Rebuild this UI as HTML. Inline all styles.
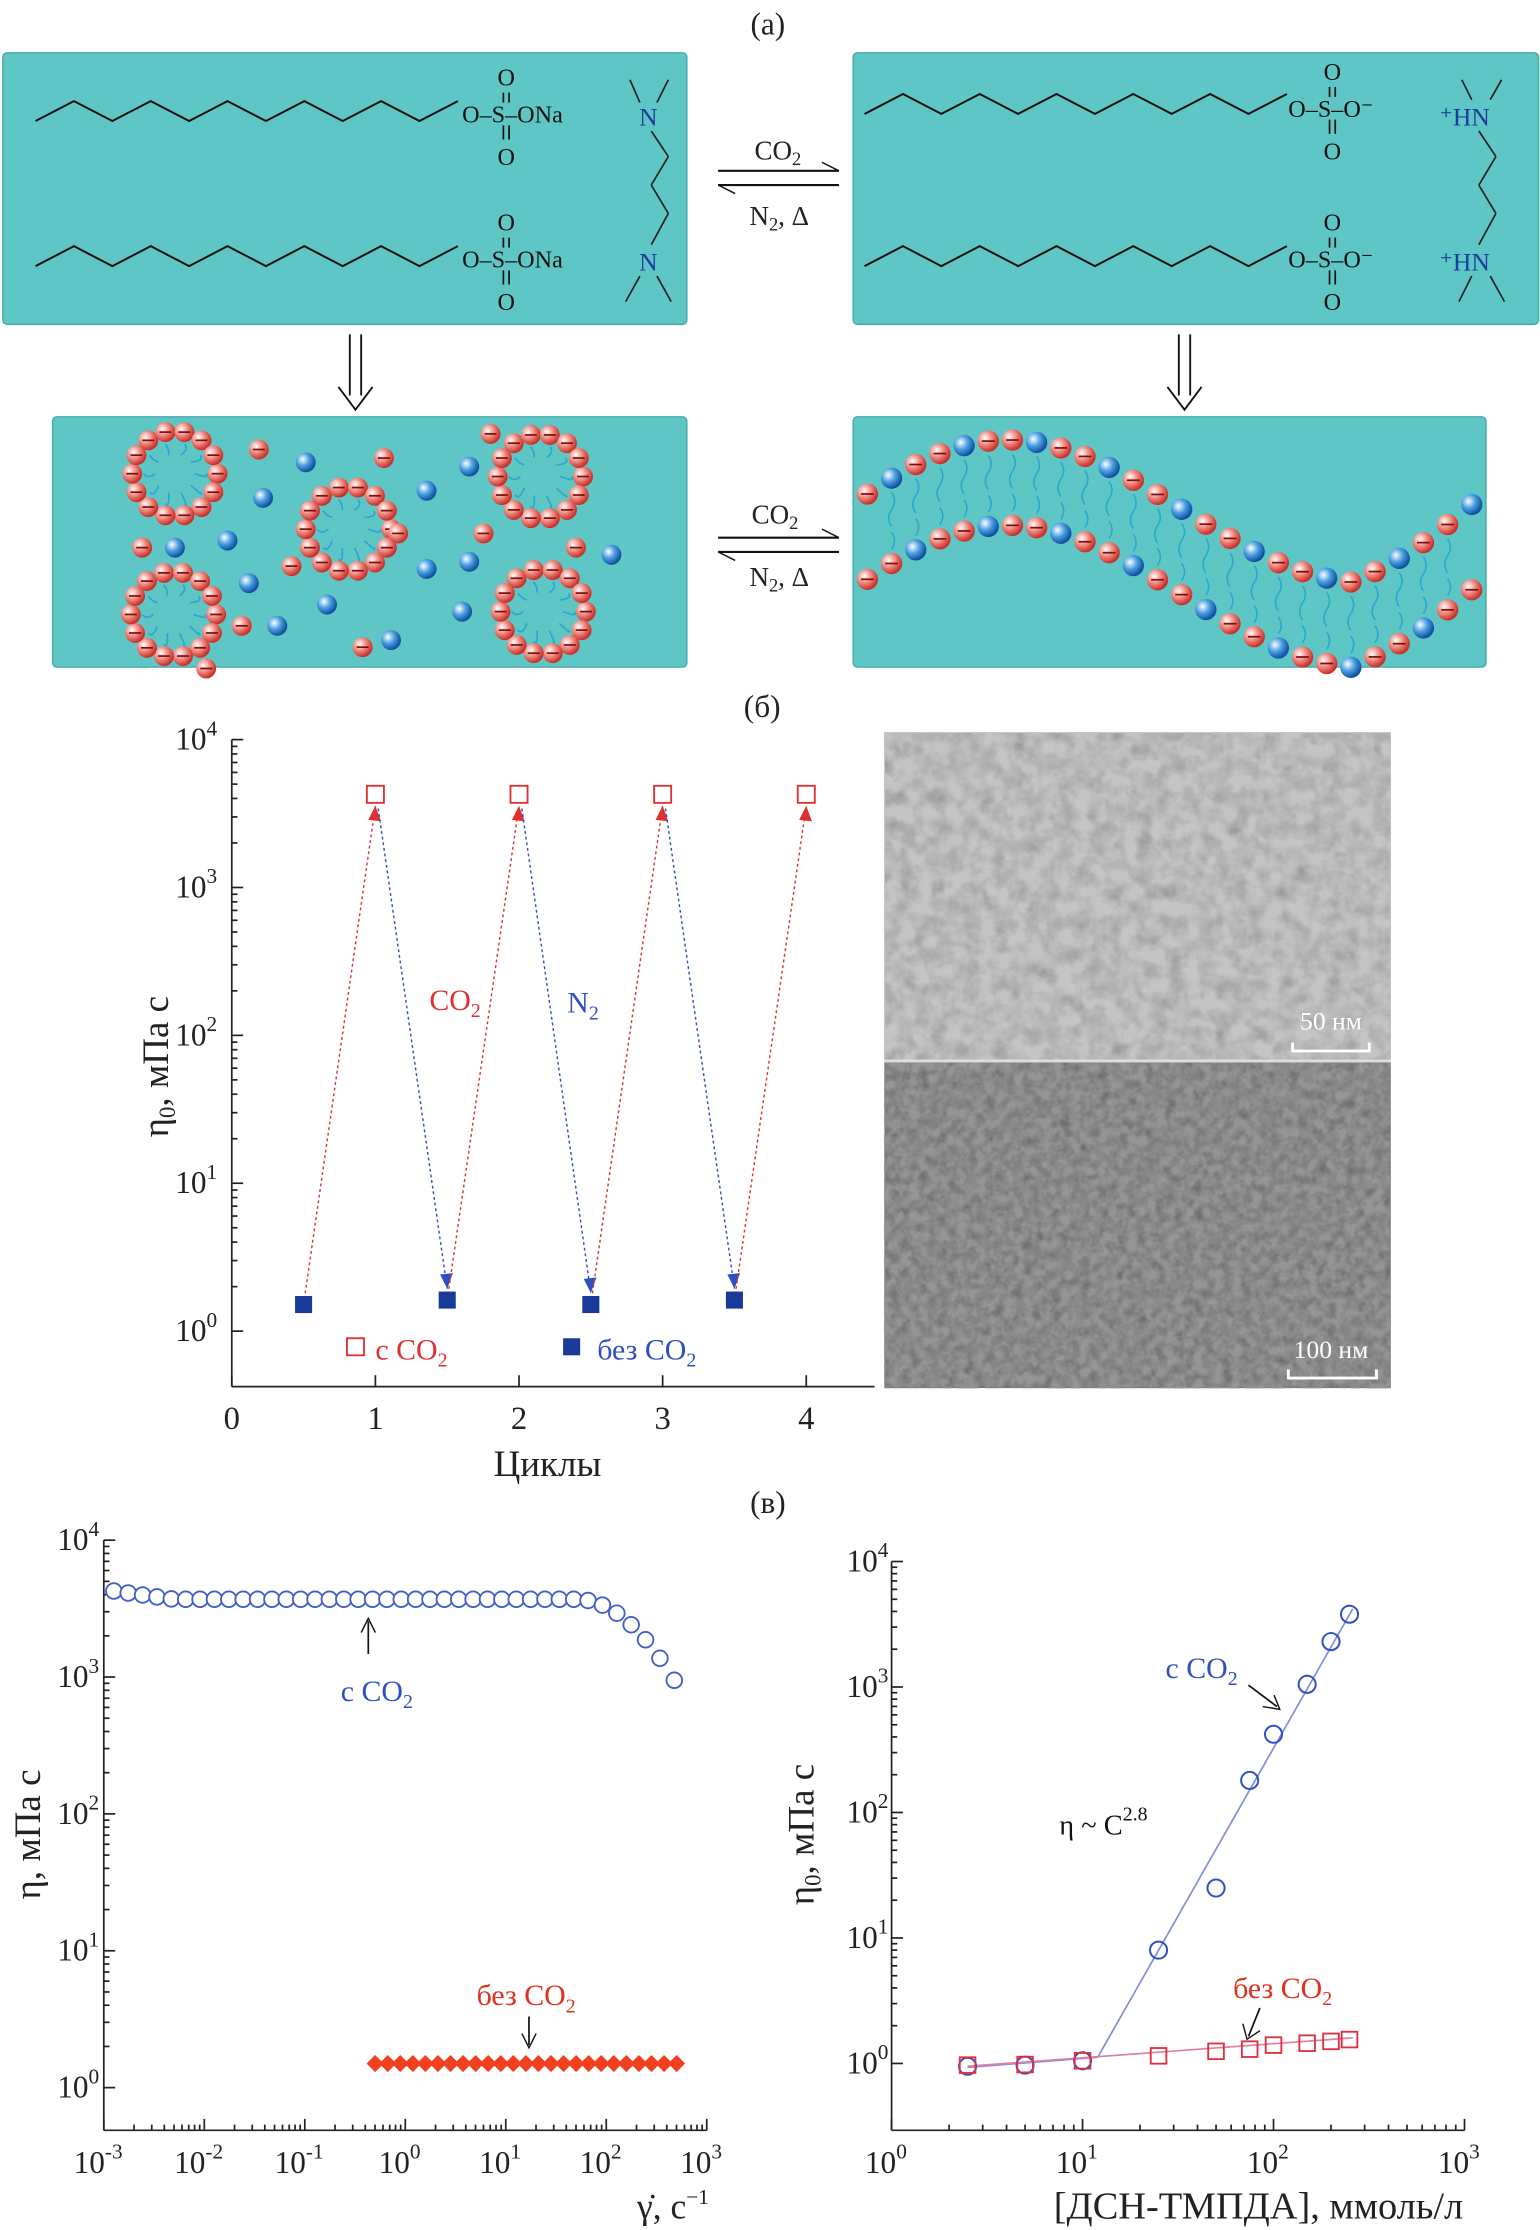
<!DOCTYPE html>
<html><head><meta charset="utf-8"><style>
html,body{margin:0;padding:0;background:#fff}
svg{display:block}
text{font-family:"Liberation Serif",serif}
</style></head><body>
<svg id="s" width="1540" height="2230" viewBox="0 0 1083 1568" xmlns="http://www.w3.org/2000/svg">
<defs>
<filter id="tem1" x="0" y="0" width="100%" height="100%"><feTurbulence type="fractalNoise" baseFrequency="0.09" numOctaves="3" seed="3"/><feColorMatrix type="matrix" values="0 0 0 0 0.55 0 0 0 0 0.55 0 0 0 0 0.55 0.9 0.9 0.9 0 -0.6"/></filter>
<filter id="tem2" x="0" y="0" width="100%" height="100%"><feTurbulence type="fractalNoise" baseFrequency="0.15" numOctaves="3" seed="7"/><feColorMatrix type="matrix" values="0 0 0 0 0.3 0 0 0 0 0.3 0 0 0 0 0.3 1 1 1 0 -0.8"/></filter>
<radialGradient id="rb" cx="35%" cy="35%" r="65%"><stop offset="0" stop-color="#fff"/><stop offset="0.5" stop-color="#f08a80"/><stop offset="1" stop-color="#c8302a"/></radialGradient>
<radialGradient id="bb" cx="35%" cy="35%" r="65%"><stop offset="0" stop-color="#fff"/><stop offset="0.5" stop-color="#4aa0e0"/><stop offset="1" stop-color="#1050a0"/></radialGradient>
</defs>
<g id="g"></g>
</svg>
<script>
const NS="http://www.w3.org/2000/svg",G=document.getElementById('g');
function el(t,a,txt){const e=document.createElementNS(NS,t);for(const k in a)e.setAttribute(k,a[k]);if(txt!==undefined)e.innerHTML=txt;G.appendChild(e);return e;}
function T(x,y,s,size,fill,anchor){return el('text',{x:x,y:y,'font-size':size||20,fill:fill||'#222','text-anchor':anchor||'middle'},s);}
function L(x1,y1,x2,y2,st,w,da){return el('line',{x1,y1,x2,y2,stroke:st||'#222','stroke-width':w||1.2,'stroke-dasharray':da||''});}
const teal='#5fc6c6';
T(540,24,'(а)',22);T(536,504,'(б)',22);T(540,1064,'(в)',22);
[[2,37,481,191],[600,37,482,191],[37,293,446,176],[600,293,445,176]].forEach(b=>el('rect',{x:b[0],y:b[1],width:b[2],height:b[3],fill:teal,stroke:'#4aa',rx:3}));
function chain(x0,y0,n,dx,h){let p=[];for(let i=0;i<=n;i++)p.push((x0+i*dx)+','+(y0+(i%2?-h:0)));el('polyline',{points:p.join(' '),fill:'none',stroke:'#111','stroke-width':1.4});}
function sulf(x,y,right,na){T(x,y+6,'O–S–'+(na?'ONa':'O⁻'),17,'#111','start');T(x+31,y-20,'O',17,'#111');T(x+31,y+36,'O',17,'#111');L(x+29,y-15,x+29,y-8,'#111');L(x+33,y-15,x+33,y-8,'#111');L(x+29,y+8,x+29,y+18,'#111');L(x+33,y+8,x+33,y+18,'#111');}
chain(25,85,11,27,14);sulf(325,80,0,1);chain(25,187,11,27,14);sulf(325,182,0,1);
chain(608,80,11,27,14);sulf(906,76,0,0);chain(608,187,11,27,14);sulf(906,182,0,0);
T(456,88,'N',18,'#1a3d9a');T(456,190,'N',18,'#1a3d9a');L(458,92,470,110);L(470,110,458,130);L(458,130,470,150);L(470,150,458,172);L(450,72,443,56);L(462,72,470,56);L(450,194,440,212);L(462,194,472,212);
T(1030,88,'⁺HN',18,'#1a3d9a');T(1030,190,'⁺HN',18,'#1a3d9a');L(1040,92,1052,110);L(1052,110,1040,130);L(1040,130,1052,150);L(1052,150,1040,172);L(1035,70,1028,56);L(1048,70,1056,56);L(1035,194,1026,212);L(1048,194,1058,212);
function eq(y){L(505,y,590,y,'#111',1.5);el('path',{d:`M578,${y-6} L590,${y}`,stroke:'#111',fill:'none'});L(505,y+10,590,y+10,'#111',1.5);el('path',{d:`M517,${y+16} L505,${y+10}`,stroke:'#111',fill:'none'});}
eq(120);T(547,112,'CO<tspan font-size="13" dy="4">2</tspan>',19);T(548,158,'N<tspan font-size="13" dy="4">2</tspan><tspan dy="-4">, Δ</tspan>',19);
eq(378);T(545,368,'CO<tspan font-size="13" dy="4">2</tspan>',19);T(548,412,'N<tspan font-size="13" dy="4">2</tspan><tspan dy="-4">, Δ</tspan>',19);
function da(x){L(x-4,235,x-4,278,'#111',1.3);L(x+4,235,x+4,278,'#111',1.3);el('path',{d:`M${x-12},272 L${x},288 L${x+12},272`,stroke:'#111',fill:'none','stroke-width':1.3});}
da(250);da(833);
function ball(x,y,r,c){el('circle',{cx:x,cy:y,r:r,fill:c=='r'?'url(#rb)':'url(#bb)'});if(c=='r')L(x-r*0.6,y,x+r*0.6,y,'#7a1010',1.2);}
function mic(cx,cy,R){for(let i=0;i<14;i++){let a=i/14*6.283;ball(cx+R*Math.cos(a),cy+R*Math.sin(a),7,'r');}for(let i=0;i<10;i++){let a=i/10*6.283;el('path',{d:`M${cx+(R-8)*Math.cos(a)},${cy+(R-8)*Math.sin(a)} q3,4 ${-(R-14)*Math.cos(a)/2},${-(R-14)*Math.sin(a)/2}`,stroke:'#2aa8d0',fill:'none','stroke-width':1.2});}}
mic(123,333,30);mic(245,372,30);mic(380,335,30);mic(122,432,30);mic(382,430,30);
[[215,325],[185,350],[123,385],[300,345],[330,328],[300,400],[175,410],[195,440],[275,450],[230,425],[325,430],[330,395],[430,390],[160,380]].forEach(p=>ball(p[0],p[1],7,'b'));
[[182,316],[270,322],[345,305],[100,385],[145,470],[205,398],[280,375],[405,385],[170,440],[255,455],[340,375]].forEach(p=>ball(p[0],p[1],7,'r'));
function worm(off,cnt){let pts=[];for(let i=0;i<cnt;i++){let t=i/(cnt-1);let x=610+t*425;let y=375+off-60*Math.sin(t*5.2+0.3)*(1-0.3*t)+ (t>0.8?(-(t-0.8)*200):0);pts.push([x,y]);}return pts;}
let up=worm(-10,26),lo=worm(50,26);
up.forEach((p,i)=>ball(p[0],p[1],7.5,i%3==1?'b':'r'));lo.forEach((p,i)=>ball(p[0],p[1],7.5,i%3==2?'b':'r'));
for(let i=1;i<25;i+=1){let a=up[i],b=lo[i];el('path',{d:`M${a[0]},${a[1]+10} q4,6 0,12 q-4,6 0,12`,stroke:'#2aa8d0',fill:'none','stroke-width':1.1});el('path',{d:`M${b[0]},${b[1]-10} q4,-6 0,-12`,stroke:'#2aa8d0',fill:'none','stroke-width':1.1});}
const bx=v=>163+v*101,by=e=>936-e*104;
L(163,520,163,975);L(163,975,615,975);
for(let d=0;d<=4;d++){L(163,by(d),171,by(d));T(138,by(d)+7,'10<tspan font-size="15" dy="-10">'+d+'</tspan>',22,'#222');if(d<4)for(let m=2;m<10;m++){let y=by(d+Math.log10(m));L(163,y,167,y);}}
for(let v=0;v<=4;v++){L(bx(v),975,bx(v),967);T(bx(v),1005,v,23);}
T(385,1038,'Циклы',26);
el('text',{x:118,y:750,'font-size':26,fill:'#222',transform:'rotate(-90 118 750)','text-anchor':'middle'},'η<tspan font-size="16" dy="5">0</tspan><tspan dy="-5">, мПа с</tspan>');
const hi=3.63,low=[0.18,0.21,0.18,0.21];
for(let i=0;i<4;i++){
 let x0=bx(i+0.5),y0=by(low[i]),x1=bx(i+1),y1=by(hi)+8;L(x0,y0,x1,y1,'#e03030',1,'2,2');el('path',{d:`M${x1-5},${y1+10} L${x1},${y1} L${x1+4},${y1+11}z`,fill:'#e03030'});
 el('rect',{x:bx(i+1)-6,y:by(hi)-6,width:12,height:12,fill:'#fff',stroke:'#e03030','stroke-width':1.3});
 el('rect',{x:x0-6,y:y0-6,width:12,height:12,fill:'#1a3a9a'});
 if(i<3){let a=bx(i+1)+2,b=by(hi)+10,c=bx(i+1.5),d=by(low[i+1])-8;L(a,b,c,d,'#3050c0',1,'2,2');el('path',{d:`M${c-5},${d-10} L${c},${d} L${c+4},${d-11}z`,fill:'#3050c0'});}
}
T(320,710,'CO<tspan font-size="14" dy="5">2</tspan>',21,'#e03030');T(410,712,'N<tspan font-size="14" dy="5">2</tspan>',21,'#3050c0');
el('rect',{x:244,y:941,width:12,height:12,fill:'#fff',stroke:'#e03030','stroke-width':1.3});T(264,956,'с CO<tspan font-size="14" dy="5">2</tspan>',21,'#e03030','start');
el('rect',{x:396,y:941,width:12,height:12,fill:'#1a3a9a'});T(420,956,'без CO<tspan font-size="14" dy="5">2</tspan>',21,'#3050c0','start');
el('rect',{x:622,y:515,width:356,height:230,fill:'#9a9a9a'});el('rect',{x:622,y:515,width:356,height:230,filter:'url(#tem1)'});
el('rect',{x:622,y:747,width:356,height:229,fill:'#6e6e6e'});el('rect',{x:622,y:747,width:356,height:229,filter:'url(#tem2)'});
L(622,746,978,746,'#ddd',2);
T(936,724,'50 нм',18,'#fff');el('path',{d:'M909,733 v6 h54 v-6',stroke:'#fff',fill:'none','stroke-width':2});
T(936,955,'100 нм',18,'#fff');el('path',{d:'M906,963 v6 h62 v-6',stroke:'#fff',fill:'none','stroke-width':2});
const lx=e=>73+(e+3)*70.67,ly=e=>1468-e*96.25;
L(73,1083,73,1498);L(73,1498,497,1498);
for(let d=0;d<=4;d++){L(73,ly(d),81,ly(d));T(55,ly(d)+7,'10<tspan font-size="15" dy="-10">'+d+'</tspan>',22);if(d<4)for(let m=2;m<10;m++){let y=ly(d+Math.log10(m));L(73,y,77,y);}}
for(let d=-3;d<=3;d++){L(lx(d),1498,lx(d),1490);T(lx(d)-4,1528,'10<tspan font-size="15" dy="-10">'+d+'</tspan>',22);if(d<3)for(let m=2;m<10;m++){let x=lx(d+Math.log10(m));L(x,1498,x,1494);}}
el('text',{x:28,y:1290,'font-size':26,fill:'#222',transform:'rotate(-90 28 1290)','text-anchor':'middle'},'η, мПа с');
T(448,1560,'γ̇, с<tspan font-size="15" dy="-10">−1</tspan>',25,'#222','start');
for(let i=0;i<40;i++){let e=-2.9+i*0.143;let v=Math.log10(3700)+0.06*Math.max(0,(-2.3-e))/0.6;if(e>1.7)v=Math.log10(3700)-0.2*Math.pow((e-1.7),2)*3.1;el('circle',{cx:lx(e),cy:ly(v),r:5.5,fill:'#fff',stroke:'#4060c8','stroke-width':1.3});}
for(let i=0;i<25;i++){let e=-0.3+i*0.125;let x=lx(e),y=ly(0.176);el('path',{d:`M${x-6},${y} L${x},${y-6} L${x+6},${y} L${x},${y+6}z`,fill:'#f04020'});}
L(259,1163,259,1140,'#111');el('path',{d:'M254,1148 L259,1138 L264,1148',stroke:'#111',fill:'none'});
T(265,1196,'с CO<tspan font-size="14" dy="5">2</tspan>',21,'#3050c0');
T(370,1410,'без CO<tspan font-size="14" dy="5">2</tspan>',21,'#e03020');L(372,1418,372,1438,'#111');el('path',{d:'M367,1430 L372,1440 L377,1430',stroke:'#111',fill:'none'});
const rx=e=>627+e*134.3,ry=e=>1451-e*88.25;
L(627,1098,627,1498);L(627,1498,1030,1498);
for(let d=0;d<=4;d++){L(627,ry(d),635,ry(d));T(610,ry(d)+7,'10<tspan font-size="15" dy="-10">'+d+'</tspan>',22);if(d<4)for(let m=2;m<10;m++){let y=ry(d+Math.log10(m));L(627,y,631,y);}}
for(let d=0;d<=3;d++){L(rx(d),1498,rx(d),1490);T(rx(d)-4,1528,'10<tspan font-size="15" dy="-10">'+d+'</tspan>',22);if(d<3)for(let m=2;m<10;m++){let x=rx(d+Math.log10(m));L(x,1498,x,1494);}}
el('text',{x:572,y:1290,'font-size':26,fill:'#222',transform:'rotate(-90 572 1290)','text-anchor':'middle'},'η<tspan font-size="16" dy="5">0</tspan><tspan dy="-5">, мПа с</tspan>');
T(885,1560,'[ДСН-ТМПДА], ммоль/л',27);
const C=[2.5,5,10,25,50,75,100,150,200,250],V1=[0.95,0.97,1.05,8,25,180,420,1050,2300,3800],V2=[0.97,0.98,1.05,1.15,1.25,1.3,1.4,1.45,1.5,1.55];
const lg=Math.log10;
L(rx(lg(2.5)),ry(lg(0.93)),rx(lg(12)),ry(lg(1.12)),'#8090d8',1.2);L(rx(lg(12)),ry(lg(1.12)),rx(lg(260)),ry(lg(4200)),'#8090d8',1.2);
L(rx(lg(2.5)),ry(lg(0.95)),rx(lg(260)),ry(lg(1.6)),'#e080a0',1.2);
C.forEach((c,i)=>{el('circle',{cx:rx(lg(c)),cy:ry(lg(V1[i])),r:6,fill:'none',stroke:'#3050c0','stroke-width':1.4});el('rect',{x:rx(lg(c))-5.5,y:ry(lg(V2[i]))-5.5,width:11,height:11,fill:'none',stroke:'#e03040','stroke-width':1.3});});
T(776,1290,'η ~ C<tspan font-size="14" dy="-10">2.8</tspan>',20,'#111');
T(845,1180,'с CO<tspan font-size="14" dy="5">2</tspan>',21,'#3050c0');L(878,1185,898,1200,'#111');el('path',{d:'M888,1200 L900,1202 L896,1192',stroke:'#111',fill:'none'});
T(902,1405,'без CO<tspan font-size="14" dy="5">2</tspan>',21,'#e03020');L(886,1412,878,1432,'#111');el('path',{d:'M874,1423 L877,1434 L886,1428',stroke:'#111',fill:'none'});
</script>
</body></html>
